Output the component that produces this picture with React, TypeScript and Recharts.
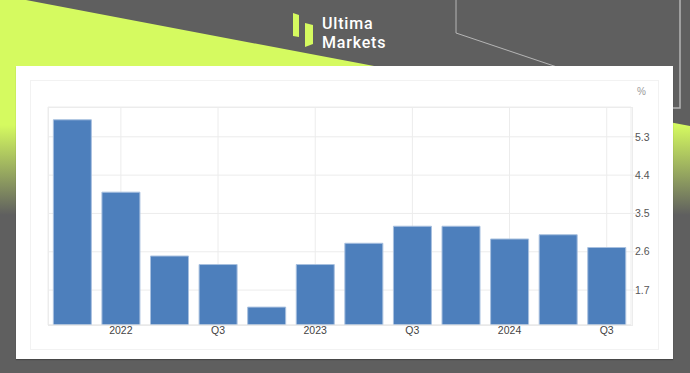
import React from "react";
import { BarChart, Bar, XAxis, YAxis, CartesianGrid } from "recharts";

const categories = ["2021Q4", "2022Q1", "2022Q2", "2022Q3", "2022Q4", "2023Q1", "2023Q2", "2023Q3", "2023Q4", "2024Q1", "2024Q2", "2024Q3"];
const values = [5.7, 4.0, 2.5, 2.3, 1.3, 2.3, 2.8, 3.2, 3.2, 2.9, 3.0, 2.7];
const xTickKeys = ["2022Q1", "2022Q3", "2023Q1", "2023Q3", "2024Q1", "2024Q3"];
const xTickLabels = ["2022", "Q3", "2023", "Q3", "2024", "Q3"];
const yTicks = [1.7, 2.6, 3.5, 4.4, 5.3];
const yDomain = [0.88, 6.0];
const unitLabel = "%";
const brandLines = ["Ultima", "Markets"];

const data = categories.map((c, i) => ({ period: c, value: values[i] }));

const fmtX = (v: string) => {
  const i = xTickKeys.indexOf(v);
  return i >= 0 ? xTickLabels[i] : "";
};

const LIME = "#d5fa60";
const GREY = "#5f5f5f";

export default function App() {
  return (
    <div style={{ position: "absolute", left: 0, top: 0, width: 690, height: 373, overflow: "hidden", background: GREY, fontFamily: "'Liberation Sans', Arial, sans-serif" }}>
      <svg width={690} height={373} style={{ position: "absolute", left: 0, top: 0 }}>
        <defs>
          <linearGradient id="limeFade" gradientUnits="userSpaceOnUse" x1="0" y1="125" x2="0" y2="215">
            <stop offset="0" stopColor={LIME} />
            <stop offset="1" stopColor={GREY} />
          </linearGradient>
        </defs>
        <rect x={0} y={0} width={690} height={373} fill={GREY} />
        <polygon points="0,0 26,0 690,126 690,373 0,373" fill="url(#limeFade)" />
        <polyline points="456,0 456,33 560,68" fill="none" stroke="#b5b5b5" strokeWidth={1} />
        <polyline points="680,0 680,108 672,108" fill="none" stroke="#b5b5b5" strokeWidth={1.5} />
        <polygon points="293,13 299,15 299,37 293,36" fill={LIME} />
        <polygon points="305,23 313,25 313,44 305,47" fill={LIME} />
        {brandLines.map((t, i) => (
          <text
            key={t}
            x={322}
            y={29 + i * 19}
            fill="#ffffff"
            fontSize={16}
            fontWeight={500}
            letterSpacing={0.8}
            fontFamily="Roboto, sans-serif"
          >
            {t}
          </text>
        ))}
      </svg>
      <div style={{ position: "absolute", left: 16, top: 66, width: 657, height: 293, background: "#ffffff", boxShadow: "0 1px 1px rgba(0,0,0,0.25)" }} />
      <div style={{ position: "absolute", left: 30, top: 80, width: 627, height: 268, border: "1px solid #f2f2f2" }} />
      <div style={{ position: "absolute", left: 48, top: 107, width: 583, height: 217, border: "1px solid #ececec" }} />
      <div style={{ position: "absolute", left: 637, top: 86, fontSize: 10, color: "#9a9a9a" }}>{unitLabel}</div>
      <div style={{ position: "absolute", left: 30, top: 80 }}>
        <BarChart width={628} height={269} data={data} margin={{ top: 27, right: 0, bottom: 4, left: 18 }} barCategoryGap="11%">
          <CartesianGrid stroke="#ececec" vertical={true} horizontal={true} />
          <XAxis
            dataKey="period"
            ticks={xTickKeys}
            interval={0}
            tickFormatter={fmtX}
            tickLine={false}
            axisLine={{ stroke: "#e6e6e6" }}
            tickSize={0}
            tickMargin={2}
            height={20}
            tick={{ fontSize: 10.5, fill: "#444444" }}
          />
          <YAxis
            orientation="right"
            domain={yDomain}
            ticks={yTicks}
            allowDataOverflow={true}
            width={27}
            axisLine={false}
            tickLine={{ stroke: "#ececec" }}
            tickSize={7}
            tickMargin={-3}
            tick={{ fontSize: 10.5, fill: "#555555" }}
          />
          <Bar dataKey="value" fill="#4d7fbc" stroke="#a8c0df" strokeWidth={1} isAnimationActive={false} />
        </BarChart>
      </div>
    </div>
  );
}
